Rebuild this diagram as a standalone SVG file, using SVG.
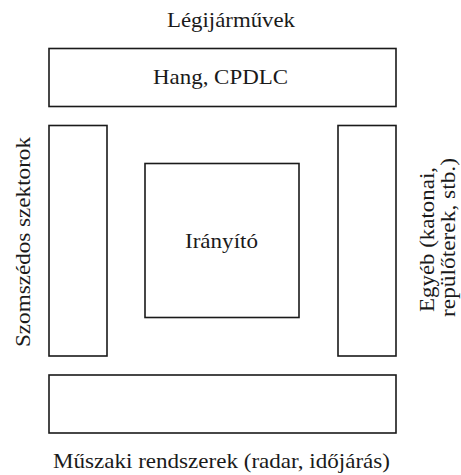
<svg xmlns="http://www.w3.org/2000/svg" width="461" height="475" viewBox="0 0 461 475">
<style>
.box{fill:#fff;stroke:#1a1a1a;stroke-width:1.6}
.t{font-family:'Liberation Serif','Times New Roman','DejaVu Serif',serif;font-size:21.5px;fill:#1a1a1a;text-anchor:middle}
</style>
<rect width="461" height="475" fill="#fff"/>
<g id="labels">
<text class="t" x="231" y="27" textLength="128" lengthAdjust="spacingAndGlyphs">Légijárművek</text>
<text class="t" x="221.5" y="468" textLength="337" lengthAdjust="spacingAndGlyphs">Műszaki rendszerek (radar, időjárás)</text>
<text class="t" transform="translate(29.5,242) rotate(-90)" textLength="210" lengthAdjust="spacingAndGlyphs">Szomszédos szektorok</text>
<text class="t" transform="translate(434,239.5) rotate(-90)" textLength="145" lengthAdjust="spacingAndGlyphs">Egyéb (katonai,</text>
<text class="t" transform="translate(455,237.5) rotate(-90)" textLength="159" lengthAdjust="spacingAndGlyphs">repülőterek, stb.)</text>
</g>
<g id="top">
<rect class="box" x="49" y="48.5" width="347" height="58"/>
<text class="t" x="220.5" y="84" textLength="135" lengthAdjust="spacingAndGlyphs">Hang, CPDLC</text>
</g>
<g id="left">
<rect class="box" x="49" y="125.5" width="58" height="230.5"/>
</g>
<g id="right">
<rect class="box" x="338" y="125.5" width="58" height="230.5"/>
</g>
<g id="center">
<rect class="box" x="145" y="163.5" width="154" height="154"/>
<text class="t" x="221.5" y="248" textLength="73" lengthAdjust="spacingAndGlyphs">Irányító</text>
</g>
<g id="bottom">
<rect class="box" x="49" y="375" width="347" height="58"/>
</g>
<g id="connectors"></g>
</svg>
